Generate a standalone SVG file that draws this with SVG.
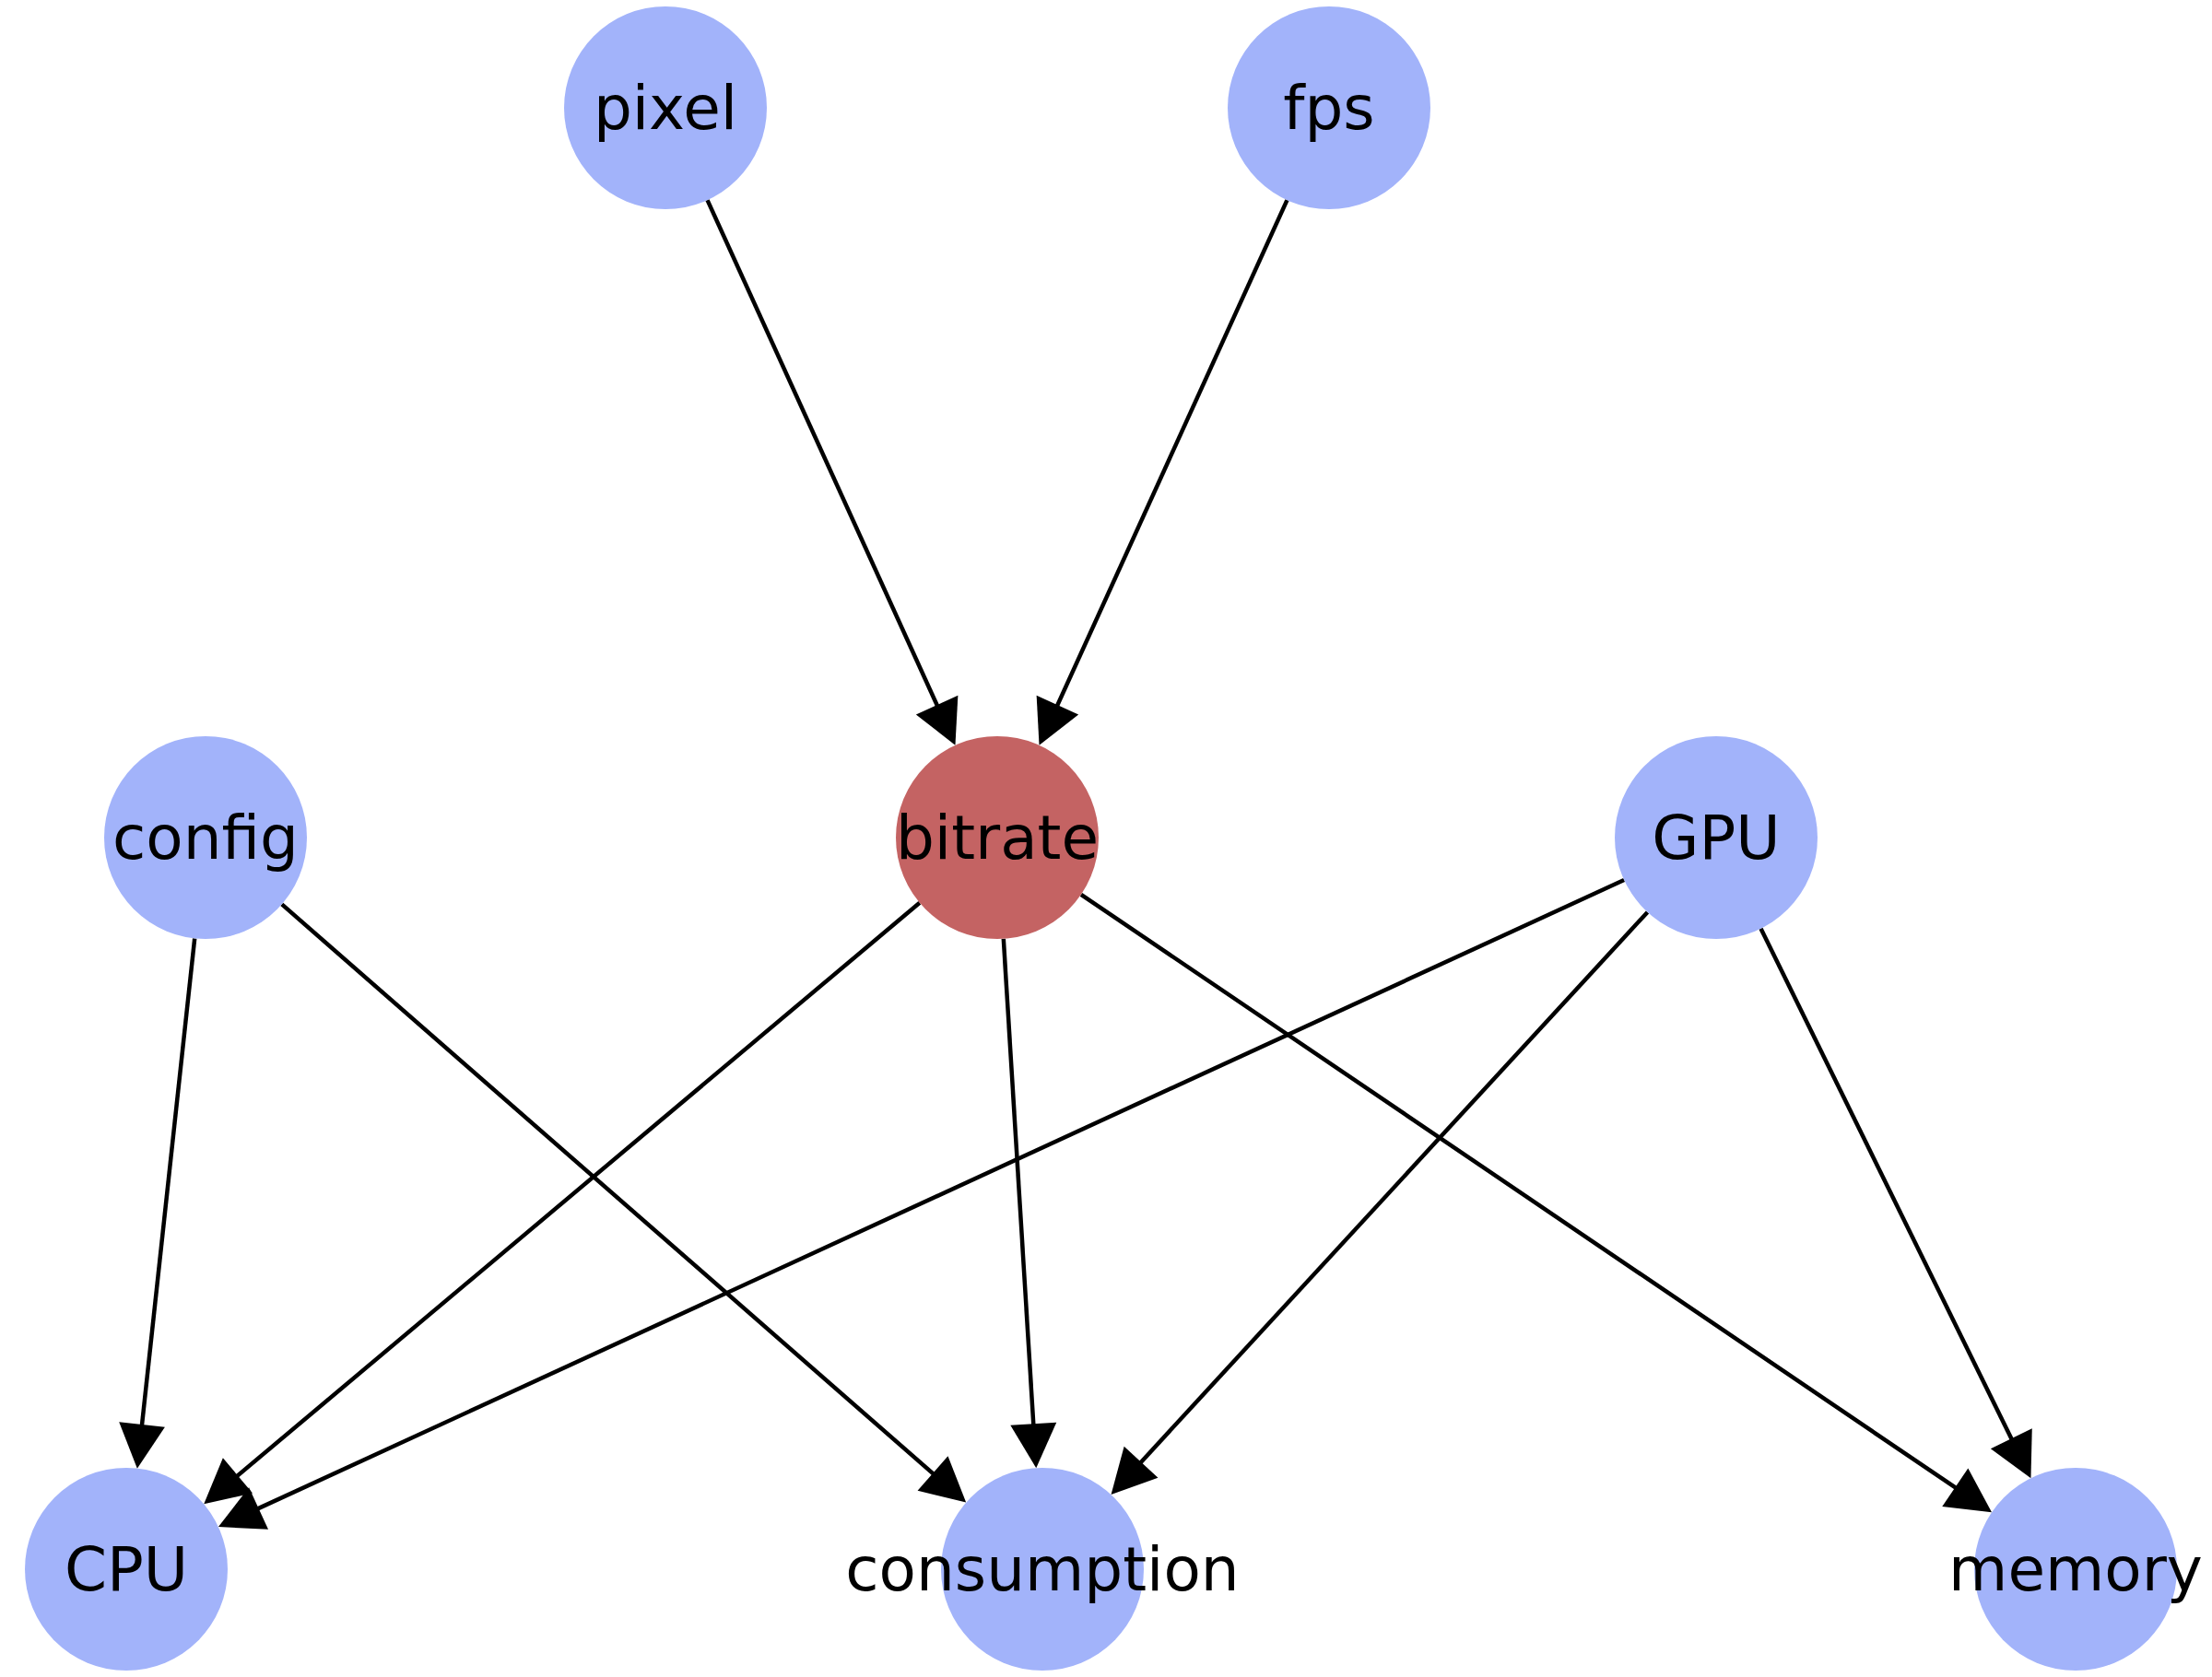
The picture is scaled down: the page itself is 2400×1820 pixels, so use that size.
<svg xmlns="http://www.w3.org/2000/svg" width="2400" height="1820" viewBox="0 0 2400 1820">
<style>
.n{fill:#a2b3fa;}
.hot{fill:#c46363;}
.t{font-family:"DejaVu Sans",sans-serif;font-size:66px;fill:#000;text-anchor:middle;}
.e{stroke:#000;stroke-width:4.5;fill:none;marker-end:url(#ah);}
</style>
<defs>
<marker id="ah" markerUnits="userSpaceOnUse" orient="auto" refX="7" refY="0" markerWidth="60" markerHeight="60" viewBox="0 -30 60 60" overflow="visible">
<path d="M0,-25 L48,0 L0,25 z" fill="#000"/>
</marker>
</defs>
<rect width="2400" height="1820" fill="#fff"/>
<g id="edges">
<line class="e" x1="767.5" y1="217.1" x2="1019.5" y2="771.5"/>
<line class="e" x1="1396.5" y1="217.1" x2="1144.5" y2="771.5"/>
<line class="e" x1="211.2" y1="1018.4" x2="153.3" y2="1552.9"/>
<line class="e" x1="305.8" y1="981.4" x2="1017.3" y2="1603.6"/>
<line class="e" x1="997.8" y1="979.8" x2="252.6" y2="1605.9"/>
<line class="e" x1="1088.8" y1="1018.8" x2="1121.7" y2="1552.3"/>
<line class="e" x1="1173" y1="970.8" x2="2127.1" y2="1618.2"/>
<line class="e" x1="1762.1" y1="955" x2="274.2" y2="1639.9"/>
<line class="e" x1="1787.5" y1="989.9" x2="1233.3" y2="1591.9"/>
<line class="e" x1="1910.5" y1="1007.7" x2="2185.4" y2="1567.5"/>
</g>
<g id="node-pixel"><circle class="n" cx="722" cy="117" r="110"/><text class="t" x="722" y="140">pixel</text></g>
<g id="node-fps"><circle class="n" cx="1442" cy="117" r="110"/><text class="t" x="1442" y="140">fps</text></g>
<g id="node-config"><circle class="n" cx="223" cy="909" r="110"/><text class="t" x="223" y="932">config</text></g>
<g id="node-bitrate"><circle class="hot" cx="1082" cy="909" r="110"/><text class="t" x="1082" y="932">bitrate</text></g>
<g id="node-GPU"><circle class="n" cx="1862" cy="909" r="110"/><text class="t" x="1862" y="932">GPU</text></g>
<g id="node-CPU"><circle class="n" cx="137" cy="1703" r="110"/><text class="t" x="137" y="1726">CPU</text></g>
<g id="node-consumption"><circle class="n" cx="1131" cy="1703" r="110"/><text class="t" x="1131" y="1726">consumption</text></g>
<g id="node-memory"><circle class="n" cx="2252" cy="1703" r="110"/><text class="t" x="2252" y="1726">memory</text></g>
</svg>
